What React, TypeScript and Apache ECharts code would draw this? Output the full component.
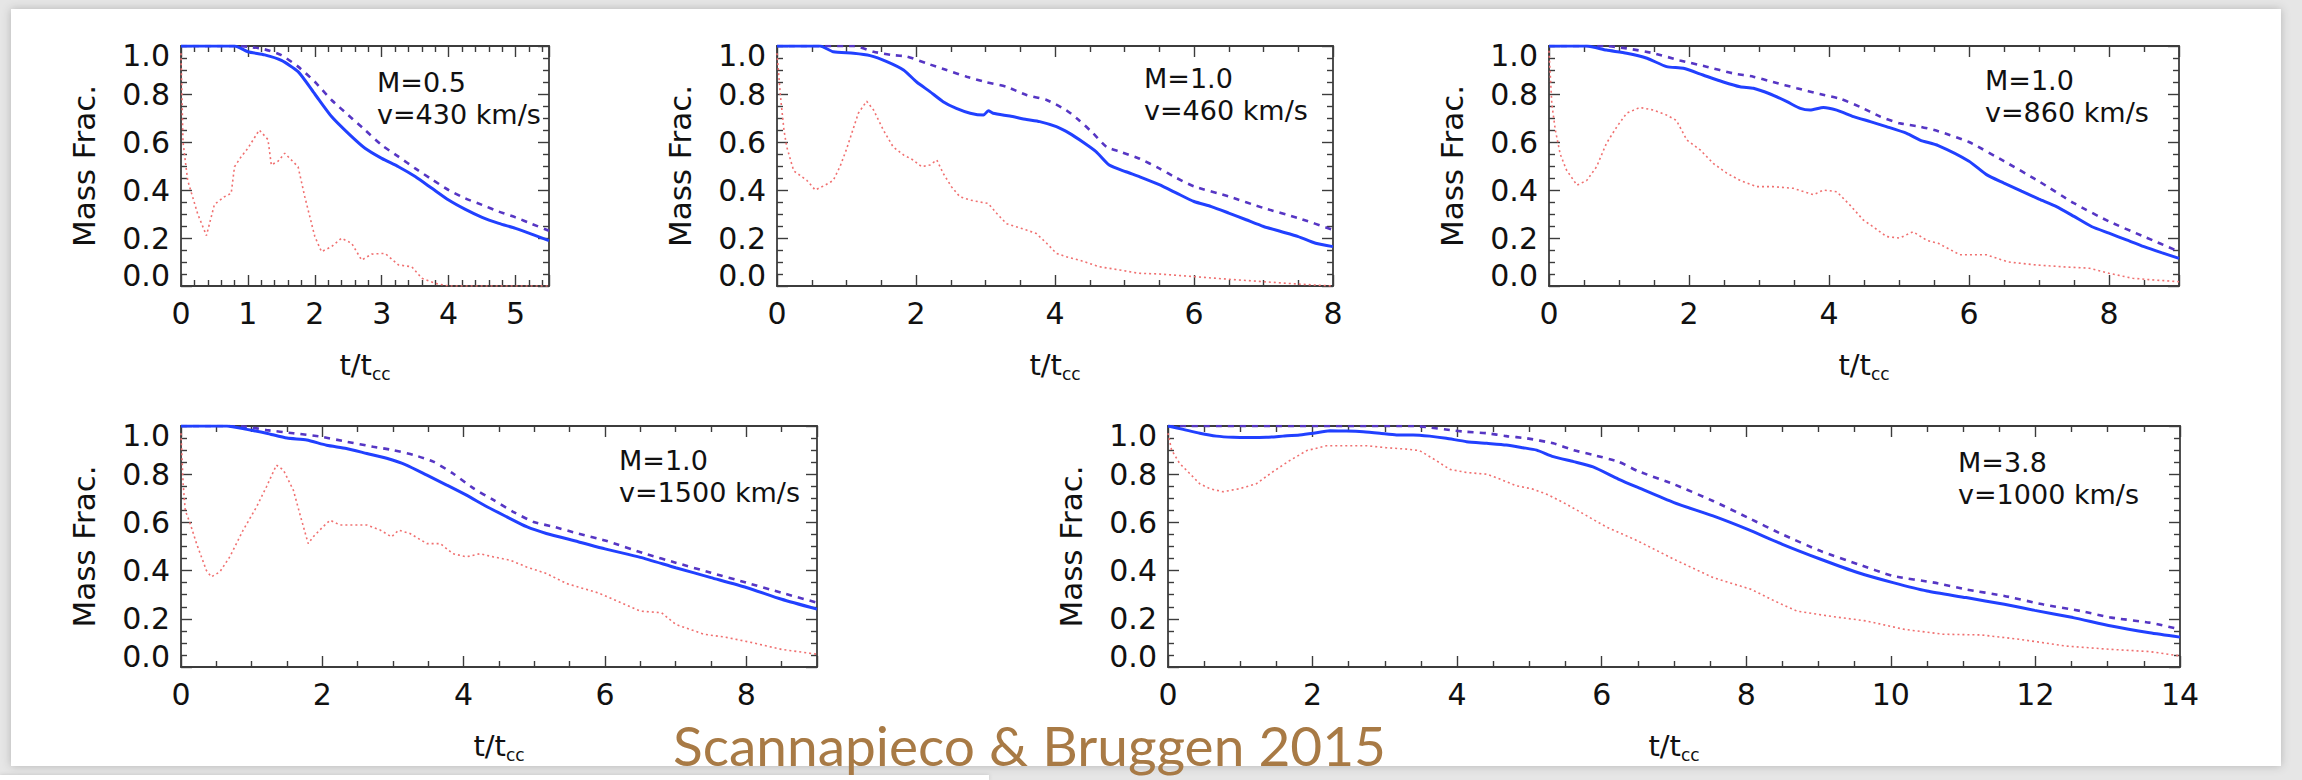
import { useEffect, useRef } from 'react';
import * as echarts from 'echarts';

// ---------- data (t/t_cc , mass fraction) ----------
const P1_SOLID = [[0,1],[0.8,1],[1.0,0.976],[1.25,0.963],[1.5,0.94],[1.75,0.893],[2.0,0.8],[2.25,0.706],[2.5,0.636],[2.75,0.574],[3.0,0.532],[3.25,0.497],[3.5,0.456],[3.75,0.407],[4.0,0.358],[4.25,0.319],[4.5,0.286],[4.75,0.261],[5.0,0.24],[5.25,0.215],[5.5,0.189]];
const P1_DASHED = [[0,1],[0.8,1],[1.0,0.997],[1.25,0.986],[1.5,0.962],[1.75,0.914],[2.0,0.851],[2.25,0.775],[2.5,0.712],[2.75,0.65],[3.0,0.587],[3.25,0.539],[3.5,0.49],[3.75,0.444],[4.0,0.4],[4.25,0.365],[4.5,0.338],[4.75,0.31],[5.0,0.286],[5.25,0.258],[5.5,0.23]];
const P1_RED = [[0,0.97],[0.03,0.6],[0.1,0.44],[0.25,0.3],[0.38,0.21],[0.5,0.34],[0.65,0.372],[0.75,0.386],[0.8,0.497],[0.9,0.539],[1.0,0.574],[1.17,0.65],[1.3,0.61],[1.35,0.504],[1.45,0.52],[1.55,0.553],[1.75,0.497],[1.85,0.372],[2.0,0.206],[2.1,0.143],[2.25,0.164],[2.4,0.199],[2.55,0.178],[2.7,0.108],[2.85,0.133],[3.05,0.136],[3.25,0.088],[3.45,0.08],[3.6,0.032],[3.8,0.011],[4.0,0],[5.5,0]];

const P2_SOLID = [[0,1],[0.62,1],[0.81,0.976],[1.1,0.97],[1.34,0.96],[1.58,0.935],[1.82,0.9],[2.01,0.85],[2.2,0.81],[2.39,0.768],[2.58,0.74],[2.78,0.72],[2.97,0.712],[3.04,0.73],[3.11,0.72],[3.35,0.708],[3.59,0.694],[3.78,0.685],[4.02,0.664],[4.21,0.636],[4.4,0.6],[4.59,0.56],[4.78,0.504],[5.02,0.476],[5.22,0.455],[5.5,0.422],[5.75,0.387],[6.0,0.352],[6.25,0.331],[6.5,0.304],[6.75,0.276],[7.0,0.248],[7.25,0.227],[7.5,0.206],[7.75,0.178],[8.0,0.164]];
const P2_DASHED = [[0,1],[1.1,1],[1.39,0.976],[1.67,0.962],[1.87,0.956],[2.15,0.928],[2.44,0.9],[2.73,0.872],[3.0,0.85],[3.3,0.83],[3.59,0.796],[3.88,0.775],[4.16,0.733],[4.35,0.69],[4.55,0.636],[4.74,0.58],[4.93,0.56],[5.22,0.53],[5.5,0.49],[5.75,0.45],[6.0,0.415],[6.5,0.373],[7.0,0.325],[7.5,0.283],[8.0,0.234]];
const P2_RED = [[0,0.97],[0.05,0.79],[0.1,0.65],[0.14,0.58],[0.24,0.48],[0.43,0.44],[0.55,0.4],[0.69,0.42],[0.81,0.44],[0.91,0.5],[1.0,0.57],[1.17,0.72],[1.29,0.77],[1.39,0.733],[1.53,0.65],[1.67,0.58],[1.82,0.546],[1.96,0.525],[2.08,0.497],[2.2,0.504],[2.3,0.525],[2.39,0.47],[2.51,0.414],[2.63,0.372],[2.78,0.358],[2.92,0.35],[3.04,0.344],[3.16,0.303],[3.3,0.26],[3.44,0.247],[3.59,0.233],[3.73,0.219],[3.88,0.178],[4.02,0.136],[4.16,0.122],[4.35,0.108],[4.64,0.08],[4.93,0.067],[5.2,0.053],[5.5,0.05],[6.0,0.039],[6.5,0.028],[7.0,0.018],[7.5,0.008],[8.0,0]];

const P3_SOLID = [[0,1],[0.54,1],[0.82,0.983],[1.11,0.97],[1.4,0.949],[1.68,0.914],[1.92,0.907],[2.2,0.879],[2.49,0.85],[2.73,0.83],[2.92,0.824],[3.16,0.8],[3.4,0.768],[3.59,0.74],[3.73,0.733],[3.92,0.744],[4.11,0.733],[4.35,0.706],[4.59,0.685],[4.82,0.664],[5.11,0.636],[5.3,0.608],[5.56,0.585],[6.0,0.52],[6.25,0.464],[6.5,0.429],[6.75,0.395],[7.0,0.362],[7.25,0.331],[7.5,0.29],[7.75,0.248],[8.0,0.22],[8.25,0.192],[8.5,0.164],[8.75,0.139],[9.0,0.115]];
const P3_DASHED = [[0,1],[0.8,1],[1.11,0.99],[1.49,0.97],[1.87,0.94],[2.25,0.914],[2.63,0.886],[2.92,0.872],[3.2,0.85],[3.54,0.824],[3.87,0.8],[4.16,0.78],[4.44,0.747],[4.73,0.706],[5.01,0.678],[5.3,0.664],[5.56,0.645],[6.0,0.6],[6.5,0.52],[7.0,0.436],[7.5,0.345],[8.0,0.269],[8.5,0.206],[9.0,0.143]];
const P3_RED = [[0,0.98],[0.04,0.76],[0.09,0.65],[0.16,0.55],[0.25,0.483],[0.4,0.42],[0.54,0.44],[0.68,0.497],[0.82,0.594],[0.97,0.664],[1.11,0.72],[1.3,0.744],[1.49,0.733],[1.68,0.712],[1.82,0.69],[1.97,0.608],[2.16,0.567],[2.35,0.51],[2.54,0.47],[2.73,0.44],[2.97,0.414],[3.2,0.414],[3.49,0.407],[3.78,0.38],[3.92,0.4],[4.11,0.393],[4.3,0.337],[4.49,0.275],[4.63,0.247],[4.82,0.206],[5.01,0.2],[5.2,0.226],[5.4,0.19],[5.56,0.178],[5.87,0.13],[6.25,0.13],[6.56,0.1],[6.95,0.088],[7.34,0.08],[7.72,0.074],[8.0,0.053],[8.34,0.032],[8.65,0.025],[9.0,0.018]];

const P4_SOLID = [[0,1],[0.65,1],[0.93,0.986],[1.21,0.97],[1.5,0.95],[1.78,0.942],[2.06,0.92],[2.34,0.907],[2.63,0.886],[2.91,0.866],[3.19,0.838],[3.48,0.796],[3.76,0.755],[4.04,0.713],[4.33,0.665],[4.61,0.623],[4.89,0.582],[5.17,0.554],[5.62,0.52],[6.0,0.49],[6.5,0.455],[7.0,0.412],[7.5,0.371],[8.0,0.33],[8.5,0.281],[9.0,0.24]];
const P4_DASHED = [[0,1],[0.6,1],[0.93,0.997],[1.21,0.983],[1.59,0.97],[1.97,0.956],[2.34,0.935],[2.72,0.914],[3.0,0.9],[3.29,0.88],[3.57,0.852],[3.85,0.803],[4.14,0.741],[4.42,0.693],[4.7,0.644],[4.99,0.602],[5.27,0.582],[5.62,0.554],[6.0,0.525],[6.6,0.467],[7.0,0.433],[7.5,0.391],[8.0,0.35],[8.5,0.308],[9.0,0.267]];
const P4_RED = [[0,0.97],[0.03,0.76],[0.06,0.65],[0.13,0.595],[0.22,0.512],[0.36,0.4],[0.43,0.374],[0.55,0.395],[0.69,0.457],[0.88,0.568],[1.07,0.665],[1.21,0.748],[1.35,0.838],[1.45,0.817],[1.59,0.734],[1.68,0.637],[1.8,0.512],[1.87,0.54],[2.01,0.582],[2.11,0.609],[2.25,0.589],[2.44,0.589],[2.63,0.589],[2.82,0.568],[2.98,0.54],[3.08,0.568],[3.24,0.554],[3.48,0.512],[3.67,0.512],[3.85,0.47],[4.04,0.457],[4.23,0.47],[4.42,0.457],[4.66,0.443],[4.89,0.415],[5.17,0.388],[5.46,0.346],[5.62,0.332],[5.9,0.308],[6.5,0.232],[6.8,0.225],[7.0,0.177],[7.4,0.136],[7.7,0.124],[8.1,0.1],[8.5,0.073],[9.0,0.053]];

const P5_SOLID = [[0,1],[0.21,0.986],[0.44,0.97],[0.67,0.958],[0.9,0.953],[1.13,0.952],[1.36,0.953],[1.59,0.958],[1.82,0.963],[2.01,0.97],[2.24,0.98],[2.47,0.979],[2.7,0.976],[2.93,0.97],[3.16,0.963],[3.39,0.963],[3.62,0.958],[3.85,0.949],[4.13,0.935],[4.41,0.928],[4.68,0.921],[4.91,0.91],[5.1,0.9],[5.33,0.873],[5.61,0.852],[5.88,0.83],[6.23,0.78],[6.5,0.745],[7.0,0.682],[7.54,0.627],[8.02,0.571],[8.5,0.509],[9.03,0.447],[9.55,0.391],[10.03,0.35],[10.5,0.315],[11.04,0.288],[11.57,0.26],[11.99,0.235],[12.52,0.205],[13.05,0.17],[13.58,0.142],[14.0,0.124]];
const P5_DASHED = [[0,1],[3.4,1],[3.62,0.994],[3.9,0.983],[4.13,0.976],[4.41,0.97],[4.68,0.958],[4.96,0.949],[5.33,0.928],[5.61,0.9],[5.88,0.88],[6.23,0.852],[6.5,0.813],[7.0,0.758],[7.54,0.689],[8.02,0.62],[8.5,0.55],[9.03,0.481],[9.55,0.426],[10.03,0.378],[10.6,0.35],[11.04,0.322],[11.57,0.295],[12.1,0.26],[12.63,0.232],[13.05,0.205],[13.58,0.184],[14.0,0.156]];
const P5_RED = [[0,0.97],[0.05,0.9],[0.16,0.845],[0.3,0.803],[0.44,0.76],[0.58,0.74],[0.76,0.727],[0.99,0.74],[1.22,0.76],[1.45,0.81],[1.68,0.856],[1.92,0.898],[2.19,0.918],[2.47,0.918],[2.75,0.918],[3.02,0.91],[3.3,0.904],[3.48,0.898],[3.67,0.864],[3.9,0.82],[4.13,0.807],[4.41,0.8],[4.59,0.78],[4.82,0.752],[5.05,0.738],[5.24,0.717],[5.51,0.676],[5.79,0.628],[6.07,0.58],[6.5,0.523],[7.0,0.447],[7.54,0.371],[8.07,0.322],[8.39,0.274],[8.7,0.232],[9.13,0.212],[9.66,0.191],[10.19,0.156],[10.72,0.136],[11.25,0.133],[11.78,0.115],[12.42,0.087],[13.05,0.073],[13.58,0.064],[14.0,0.046]];

const PANEL_LABELS = ['M=0.5\nv=430 km/s', 'M=1.0\nv=460 km/s', 'M=1.0\nv=860 km/s', 'M=1.0\nv=1500 km/s', 'M=3.8\nv=1000 km/s'];
const X_MAX = [5.5, 8, 9, 9, 14];
const X_INTERVAL = [1, 2, 2, 2, 2];
const Y_TICK_LABELS = ['0.0', '0.2', '0.4', '0.6', '0.8', '1.0'];
const Y_NAME = 'Mass Frac.';
const CITATION = 'Scannapieco & Bruggen 2015';

// ---------- layout / style ----------
const GRIDS = [
  { left: 181, top: 46, width: 368, height: 240 },
  { left: 777, top: 46, width: 556, height: 240 },
  { left: 1549, top: 46, width: 630, height: 240 },
  { left: 181, top: 426, width: 636, height: 241 },
  { left: 1168, top: 426, width: 1012, height: 241 },
];
const X_MINOR = [5, 4, 4, 4, 4];
const LABEL_POS = [[377, 66], [1144, 62], [1985, 64], [619, 444], [1958, 446]];
const FONT = '"DejaVu Sans", sans-serif';
const INK = '#111';
const FRAME = '#3c3c3c';

export default function App() {
  const ref = useRef<HTMLDivElement>(null);
  useEffect(() => {
    document.body.style.margin = '0';
    if (!ref.current) return;
    const chart = echarts.init(ref.current, null, { renderer: 'svg' });
    const solids = [P1_SOLID, P2_SOLID, P3_SOLID, P4_SOLID, P5_SOLID];
    const dasheds = [P1_DASHED, P2_DASHED, P3_DASHED, P4_DASHED, P5_DASHED];
    const reds = [P1_RED, P2_RED, P3_RED, P4_RED, P5_RED];

    const frameLine = { color: FRAME, width: 1.8 };
    const tickLine = { color: FRAME, width: 1.4 };
    const xAxis: any[] = [];
    const yAxis: any[] = [];
    const series: any[] = [];
    const grid = GRIDS.map((g) => ({ ...g, containLabel: false, outerBoundsMode: 'none' }));

    GRIDS.forEach((_, i) => {
      const xi = X_INTERVAL[i];
      const common = {
        type: 'value', gridIndex: i, min: 0, max: X_MAX[i], interval: xi,
        axisLine: { show: true, onZero: false, lineStyle: frameLine },
        axisTick: { show: true, inside: true, length: 11, lineStyle: tickLine },
        minorTick: { show: true, splitNumber: X_MINOR[i], length: 6, lineStyle: tickLine },
        splitLine: { show: false }, minorSplitLine: { show: false },
      };
      xAxis.push({
        ...common, position: 'bottom',
        axisLabel: {
          margin: 12, fontFamily: FONT, fontSize: 30, color: INK,
          formatter: (v: number) => (Math.abs(v / xi - Math.round(v / xi)) < 1e-6 ? String(Math.round(v)) : ''),
        },
        name: '{a|t/t}{b|cc}', nameLocation: 'middle', nameGap: 62, nameMoveOverlap: false,
        nameTextStyle: {
          rich: {
            a: { fontFamily: FONT, fontSize: 29, color: INK, lineHeight: 34 },
            b: { fontFamily: FONT, fontSize: 17, color: INK, lineHeight: 14, verticalAlign: 'bottom' },
          },
        },
      });
      xAxis.push({ ...common, position: 'top', axisLabel: { show: false } });

      const ycommon = {
        type: 'value', gridIndex: i, min: 0, max: 1, interval: 0.2,
        axisLine: { show: true, onZero: false, lineStyle: frameLine },
        axisTick: { show: true, inside: true, length: 11, lineStyle: tickLine },
        minorTick: { show: true, splitNumber: 4, length: 6, lineStyle: tickLine },
        splitLine: { show: false }, minorSplitLine: { show: false },
      };
      const rs = { fontFamily: FONT, fontSize: 30, color: INK };
      yAxis.push({
        ...ycommon, position: 'left',
        axisLabel: {
          margin: 11,
          formatter: (v: number) => {
            const s = Y_TICK_LABELS[Math.round(v / 0.2)] ?? v.toFixed(1);
            if (v > 0.99) return `{t|${s}}`;
            if (v < 0.01) return `{b|${s}}`;
            return `{n|${s}}`;
          },
          rich: { t: { ...rs, padding: [18, 0, 0, 0] }, b: { ...rs, padding: [0, 0, 22, 0] }, n: { ...rs } },
        },
        name: Y_NAME, nameLocation: 'middle', nameRotate: 90, nameGap: 82, nameMoveOverlap: false,
        nameTextStyle: { fontFamily: FONT, fontSize: 31, color: INK },
      });
      yAxis.push({ ...ycommon, position: 'right', axisLabel: { show: false } });

      const base = { type: 'line', xAxisIndex: 2 * i, yAxisIndex: 2 * i, symbol: 'none', showSymbol: false, clip: true, silent: true };
      series.push({ ...base, data: reds[i], z: 2, lineStyle: { color: '#f07070', width: 1.6, type: [2, 3] } });
      series.push({ ...base, data: dasheds[i], z: 3, smooth: 0.2, lineStyle: { color: '#5636c4', width: 2.6, type: [6, 6] } });
      series.push({ ...base, data: solids[i], z: 4, smooth: 0.2, lineStyle: { color: '#2140ff', width: 3 } });
    });

    const graphic: any[] = [
      { type: 'rect', z: -10, shape: { x: 0, y: 0, width: 2302, height: 780 }, style: { fill: '#e6e6e6' } },
      { type: 'rect', z: -9, shape: { x: 11, y: 9, width: 2270, height: 757 }, style: { fill: '#ffffff', shadowBlur: 10, shadowColor: 'rgba(0,0,0,0.22)' } },
      { type: 'rect', z: -8, shape: { x: 0, y: 775, width: 989, height: 5 }, style: { fill: '#ffffff', shadowBlur: 4, shadowColor: 'rgba(0,0,0,0.15)' } },
      ...PANEL_LABELS.map((t, i) => ({
        type: 'text', z: 10, x: LABEL_POS[i][0], y: LABEL_POS[i][1],
        style: { text: t, fontFamily: FONT, fontSize: 27, lineHeight: 32, fill: INK, align: 'left', verticalAlign: 'top' },
      })),
      {
        type: 'text', z: 10, x: 673, y: 745,
        style: { text: CITATION, fontFamily: 'Lato, sans-serif', fontSize: 55, lineHeight: 40, fill: '#a87a45', align: 'left', verticalAlign: 'middle' },
      },
    ];

    chart.setOption({ animation: false, backgroundColor: '#fff', grid, xAxis, yAxis, series, graphic });
    return () => chart.dispose();
  }, []);
  return <div ref={ref} style={{ width: 2302, height: 780 }} />;
}
